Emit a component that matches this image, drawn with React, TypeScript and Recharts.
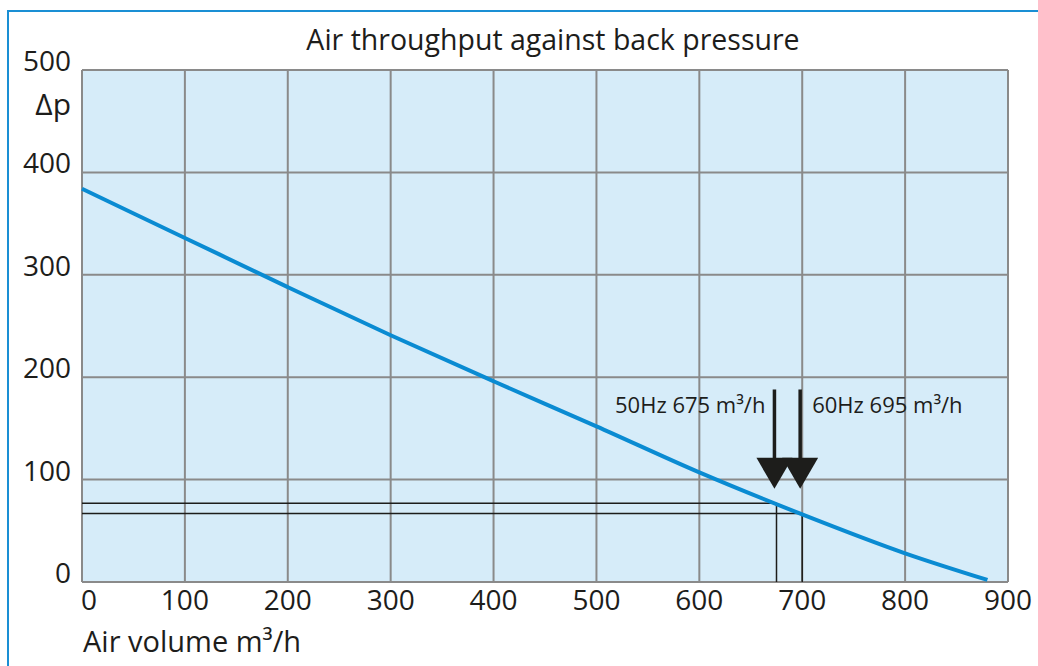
import React from 'react';
import {
  LineChart,
  Line,
  XAxis,
  YAxis,
  CartesianGrid,
  ReferenceLine,
  ReferenceDot,
  Customized,
} from 'recharts';

// curve
const airVolume = [0, 100, 200, 300, 400, 500, 600, 700, 800, 880];
const backPressure = [384, 336, 288, 241, 196, 152, 107, 66, 28, 2];

const xTicks = [0, 100, 200, 300, 400, 500, 600, 700, 800, 900];
const yTicks = [0, 100, 200, 300, 400, 500];

// operating points: flow, pressure on the curve, arrow top / tip values
const opFlow = [675, 700];
const opPressure = [77, 67];
const arrowTop = [188, 188];
const arrowTip = [91, 91];
const labelLevel = [173, 173];
const opLabels = ['50Hz 675 m³/h', '60Hz 695 m³/h'];

const curveData = airVolume.map((v, i) => ({ volume: v, dp: backPressure[i] }));

const FONT = '"Open Sans", "Noto Sans", sans-serif';
const TEXT = '#1d1d1b';

const XTick = (props: any) => {
  const { x, y, payload } = props;
  const first = payload.value === 0;
  return (
    <text
      x={first ? x - 1 : x}
      y={y + 20}
      textAnchor={first ? 'start' : 'middle'}
      fontSize={28}
      fontFamily={FONT}
      fill={TEXT}
    >
      {payload.value}
    </text>
  );
};

const YTick = (props: any) => {
  const { x, y, payload } = props;
  return (
    <text x={x} y={y + 1} textAnchor="end" fontSize={28} fontFamily={FONT} fill={TEXT}>
      {payload.value}
    </text>
  );
};

const Arrow = (props: any) => {
  const { cx, cy } = props;
  if (cx == null || cy == null) return null;
  return <path d={`M${cx - 18},${cy - 31} L${cx + 18},${cy - 31} L${cx},${cy} Z`} fill="#1d1d1b" />;
};

const Labels = () => (
  <g fontFamily={FONT} fill={TEXT}>
    <text x={553} y={50} textAnchor="middle" fontSize={28.5}>
      Air throughput against back pressure
    </text>
    <text x={71} y={115} textAnchor="end" fontSize={30}>
      Δp
    </text>
    <text x={83} y={652} fontSize={29}>
      Air volume m³/h
    </text>
  </g>
);

const App: React.FC = () => {
  return (
    <div style={{ position: 'absolute', left: 0, top: 0, width: 1038, height: 666, background: '#fff' }}>
      {/* blue frame of the datasheet box */}
      <div
        style={{
          position: 'absolute',
          left: 7,
          top: 10,
          right: 0,
          bottom: 0,
          borderTop: '2.5px solid #1a8fd4',
          borderLeft: '2.5px solid #1a8fd4',
        }}
      />
      <div style={{ position: 'absolute', left: 0, top: 0 }}>
        <LineChart width={1038} height={666} data={curveData} margin={{ top: 70, right: 30, bottom: 54, left: 22 }}>
          <CartesianGrid fill="#d6ecf9" stroke="#8a8a8a" strokeWidth={2} />
          <XAxis
            dataKey="volume"
            type="number"
            domain={[0, 900]}
            ticks={xTicks}
            axisLine={false}
            tickLine={false}
            height={30}
            tick={<XTick />}
            interval={0}
          />
          <YAxis
            type="number"
            domain={[0, 500]}
            ticks={yTicks}
            axisLine={false}
            tickLine={false}
            width={60}
            tickMargin={5}
            tick={<YTick />}
            interval={0}
          />
          {opFlow.map((f, i) => (
            <ReferenceLine
              key={`h${i}`}
              segment={[
                { x: 0, y: opPressure[i] },
                { x: f, y: opPressure[i] },
              ]}
              stroke="#1d1d1b"
              strokeWidth={1.5}
            />
          ))}
          {opFlow.map((f, i) => (
            <ReferenceLine
              key={`v${i}`}
              segment={[
                { x: f, y: opPressure[i] },
                { x: f, y: 0 },
              ]}
              stroke="#1d1d1b"
              strokeWidth={1.5}
            />
          ))}
          <Line
            type="monotone"
            dataKey="dp"
            stroke="#0a8bd2"
            strokeWidth={4}
            dot={false}
            isAnimationActive={false}
          />
          {opFlow.map((f, i) => (
            <ReferenceLine
              key={`s${i}`}
              segment={[
                { x: f - 2, y: arrowTop[i] },
                { x: f - 2, y: arrowTip[i] + 25 },
              ]}
              stroke="#1d1d1b"
              strokeWidth={3.5}
            />
          ))}
          {opFlow.map((f, i) => (
            <ReferenceDot key={`a${i}`} x={f - 2} y={arrowTip[i]} shape={<Arrow />} ifOverflow="visible" />
          ))}
          {opFlow.map((f, i) => (
            <ReferenceDot
              key={`l${i}`}
              x={f - 2}
              y={labelLevel[i]}
              r={0}
              fill="none"
              stroke="none"
              label={{
                value: opLabels[i],
                position: i === 0 ? 'left' : 'right',
                offset: i === 0 ? 9 : 12,
                fontSize: 22,
                fontFamily: FONT,
                fill: TEXT,
              }}
            />
          ))}
          <Customized component={<Labels />} />
        </LineChart>
      </div>
    </div>
  );
};

export default App;
